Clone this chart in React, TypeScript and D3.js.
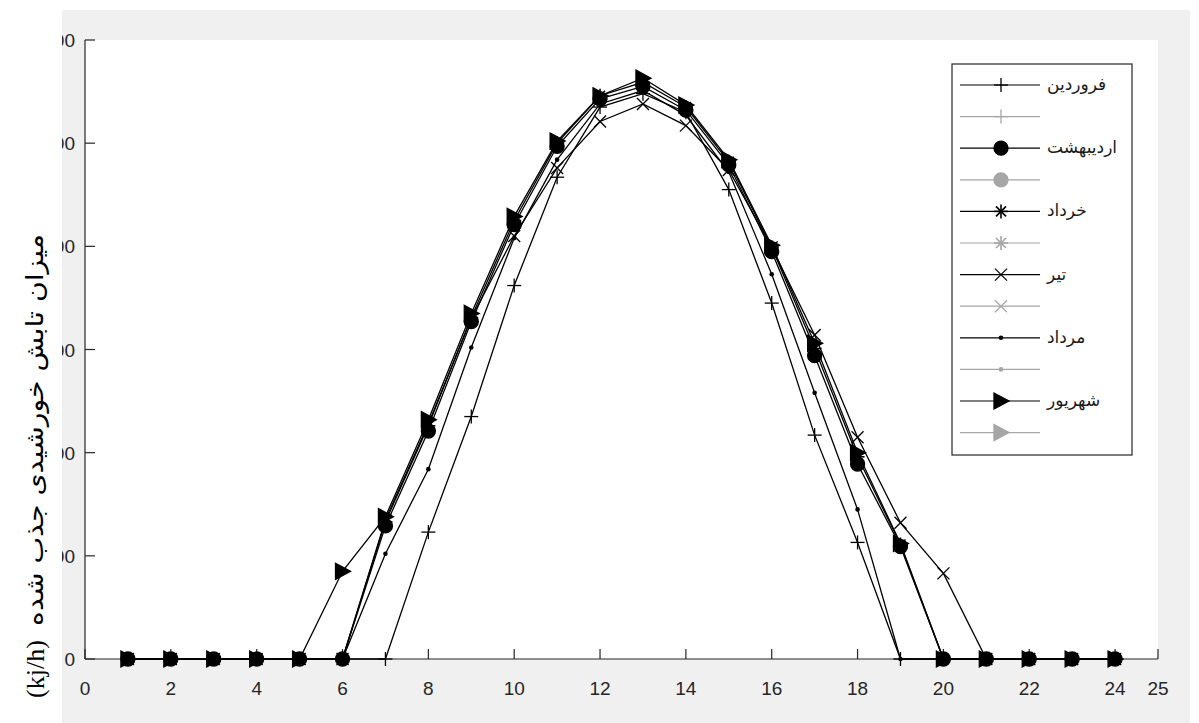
import React from 'react';
import * as d3 from 'd3';

// ---- data ----
const hours = [1, 2, 3, 4, 5, 6, 7, 8, 9, 10, 11, 12, 13, 14, 15, 16, 17, 18, 19, 20, 21, 22, 23, 24];
const farvardin = [0, 0, 0, 0, 0, 0, 0, 123, 235, 362, 467, 535, 548, 530, 455, 345, 217, 113, 0, 0, 0, 0, 0, 0];
const ordibehesht = [0, 0, 0, 0, 0, 0, 129, 221, 327, 421, 497, 543, 555, 532, 479, 395, 294, 189, 109, 0, 0, 0, 0, 0];
const khordad = [0, 0, 0, 0, 0, 0, 133, 226, 331, 425, 500, 546, 559, 535, 482, 399, 301, 196, 111, 0, 0, 0, 0, 0];
const tir = [0, 0, 0, 0, 0, 0, 135, 228, 330, 410, 476, 521, 538, 517, 474, 399, 314, 215, 132, 83, 0, 0, 0, 0];
const mordad = [0, 0, 0, 0, 0, 0, 102, 184, 302, 408, 484, 538, 551, 527, 472, 373, 258, 145, 0, 0, 0, 0, 0, 0];
const shahrivar = [0, 0, 0, 0, 0, 85, 138, 232, 335, 429, 502, 546, 563, 537, 484, 401, 306, 200, 112, 0, 0, 0, 0, 0];

const seriesNames = ['فروردین', 'اردیبهشت', 'خرداد', 'تیر', 'مرداد', 'شهریور'];
const seriesValues = [farvardin, ordibehesht, khordad, tir, mordad, shahrivar];
const seriesMarkers = ['plus', 'circle', 'star', 'cross', 'dot', 'triangle'];

const xTicks = [0, 2, 4, 6, 8, 10, 12, 14, 16, 18, 20, 22, 24, 25];
const yTicks = [0, 100, 200, 300, 400, 500, 600];
const yLabelText = 'میزان تابش خورشیدی جذب شده';
const yUnitText = '(kj/h)';

// ---- layout ----
const W = 1199;
const H = 723;
const plot = { left: 85, right: 1158, top: 40, bottom: 659 };
const axisColor = '#262626';
const grayLegend = '#a6a6a6';

function Marker({ type, x, y, color }: { type: string; x: number; y: number; color: string }) {
  const sw = 1.3;
  switch (type) {
    case 'plus':
      return (
        <g stroke={color} strokeWidth={sw}>
          <line x1={x - 7} x2={x + 7} y1={y} y2={y} />
          <line x1={x} x2={x} y1={y - 7} y2={y + 7} />
        </g>
      );
    case 'circle':
      return <circle cx={x} cy={y} r={7} fill={color} stroke={color} strokeWidth={sw} />;
    case 'star':
      return (
        <g stroke={color} strokeWidth={sw + 0.3}>
          <line x1={x - 7} x2={x + 7} y1={y} y2={y} />
          <line x1={x} x2={x} y1={y - 7} y2={y + 7} />
          <line x1={x - 5} x2={x + 5} y1={y - 5} y2={y + 5} />
          <line x1={x - 5} x2={x + 5} y1={y + 5} y2={y - 5} />
        </g>
      );
    case 'cross':
      return (
        <g stroke={color} strokeWidth={sw}>
          <line x1={x - 6} x2={x + 6} y1={y - 6} y2={y + 6} />
          <line x1={x - 6} x2={x + 6} y1={y + 6} y2={y - 6} />
        </g>
      );
    case 'dot':
      return <circle cx={x} cy={y} r={2.3} fill={color} />;
    case 'triangle':
      return (
        <path
          d={`M${x - 7},${y - 8} L${x + 8},${y} L${x - 7},${y + 8} Z`}
          fill={color}
          stroke={color}
          strokeWidth={sw}
        />
      );
    default:
      return null;
  }
}

export default function App() {
  const xScale = d3.scaleLinear().domain([0, 25]).range([plot.left, plot.right]);
  const yScale = d3.scaleLinear().domain([0, 600]).range([plot.bottom, plot.top]);
  const lineGen = d3
    .line<number>()
    .x((_, i) => xScale(hours[i]))
    .y((d) => yScale(d));

  const legend = { x: 952, y: 64, w: 180, h: 391 };

  return (
    <svg
      width={W}
      height={H}
      style={{ position: 'absolute', left: 0, top: 0, display: 'block', background: '#ffffff' }}
    >
      <defs>
        <clipPath id="ytick-clip">
          <rect x={62} y={0} width={W} height={H} />
        </clipPath>
      </defs>
      <rect x={0} y={0} width={W} height={H} fill="#ffffff" />
      <rect x={62} y={10} width={1128} height={713} fill="#f0f0f0" />
      <rect
        x={plot.left}
        y={plot.top}
        width={plot.right - plot.left}
        height={plot.bottom - plot.top}
        fill="#ffffff"
      />

      {/* axes */}
      <g stroke={axisColor} strokeWidth={1.2}>
        <line x1={plot.left} x2={plot.right} y1={plot.bottom} y2={plot.bottom} />
        <line x1={plot.left} x2={plot.left} y1={plot.top} y2={plot.bottom} />
        {xTicks.map((t) => (
          <line key={'xt' + t} x1={xScale(t)} x2={xScale(t)} y1={plot.bottom} y2={plot.bottom - 10} />
        ))}
        {yTicks.map((t) => (
          <line key={'yt' + t} x1={plot.left} x2={plot.left + 10} y1={yScale(t)} y2={yScale(t)} />
        ))}
      </g>
      <g style={{ fontFamily: "'Liberation Sans', Arial, sans-serif", fontSize: '19px' }} fill={axisColor}>
        {xTicks.map((t) => (
          <text key={'xl' + t} x={xScale(t)} y={plot.bottom + 36} textAnchor="middle">
            {t}
          </text>
        ))}
        <g clipPath="url(#ytick-clip)">
          {yTicks.map((t) => (
            <text key={'yl' + t} x={plot.left - 10} y={yScale(t) + 7} textAnchor="end">
              {t}
            </text>
          ))}
        </g>
      </g>

      {/* series */}
      {seriesValues.map((vals, si) => (
        <g key={'s' + si}>
          <path d={lineGen(vals) || ''} fill="none" stroke="#000" strokeWidth={1.3} />
          {vals.map((v, i) => (
            <Marker key={i} type={seriesMarkers[si]} x={xScale(hours[i])} y={yScale(v)} color="#000" />
          ))}
        </g>
      ))}

      {/* legend */}
      <rect x={legend.x} y={legend.y} width={legend.w} height={legend.h} fill="#ffffff" stroke={axisColor} strokeWidth={1.2} />
      {seriesNames.map((name, si) =>
        [0, 1].map((k) => {
          const row = si * 2 + k;
          const cy = legend.y + 21 + row * 31.6;
          const color = k === 0 ? '#000' : grayLegend;
          return (
            <g key={'lg' + row}>
              <line x1={960} x2={1040} y1={cy} y2={cy} stroke={color} strokeWidth={1.2} />
              <Marker type={seriesMarkers[si]} x={1001} y={cy} color={color} />
              {k === 0 && (
                <text
                  x={1047}
                  y={cy + 5}
                  style={{ fontFamily: "'DejaVu Sans', sans-serif", fontSize: '17px' }}
                  fill="#1a1a1a"
                >
                  {name}
                </text>
              )}
            </g>
          );
        })
      )}

      {/* y label */}
      <g fill="#000">
        <text
          transform={`translate(43,430) rotate(-90) scale(1.18,1)`}
          textAnchor="middle"
          direction="rtl"
          style={{ fontFamily: "'DejaVu Sans', sans-serif", fontSize: '24px' }}
        >
          {yLabelText}
        </text>
        <text
          transform={`translate(44,669) rotate(-90)`}
          textAnchor="middle"
          style={{ fontFamily: "'Liberation Serif', 'DejaVu Serif', serif", fontSize: '26px' }}
        >
          {yUnitText}
        </text>
      </g>
    </svg>
  );
}
